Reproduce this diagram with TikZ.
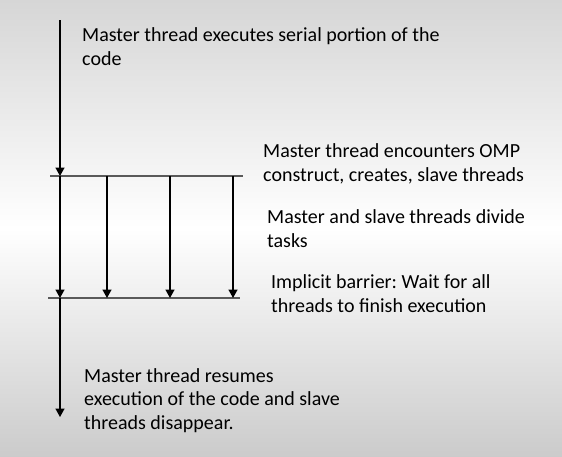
\documentclass[tikz,border=0pt]{standalone}
\usepackage{fontspec}
\setmainfont{Carlito}
\usetikzlibrary{arrows.meta}
\definecolor{bgedge}{HTML}{D6D6D6}
\definecolor{barcol}{HTML}{5A5A5A}
\frenchspacing
\begin{document}
\begin{tikzpicture}[x=1pt,y=-1pt,
  thr/.style={line width=1.4pt,black,-{Triangle[width=9pt,length=8.5pt]}},
  bar/.style={line width=1.2pt,barcol},
  lbl/.style={anchor=base west,inner sep=0pt,align=left,text=black,
    font=\fontsize{20}{23.5}\selectfont}]
\useasboundingbox (0,0) rectangle (562,456);
\shade[top color=bgedge,bottom color=bgedge!95!black,middle color=white] (0,0) rectangle (562,456);
% junction coordinates
\coordinate (m0) at (60,20);
\coordinate (t0) at (60,176);
\coordinate (b0) at (60,298);
\coordinate (mend) at (60,417);
\coordinate (t1) at (107,176);
\coordinate (t2) at (170,176);
\coordinate (t3) at (233,176);
\coordinate (b1) at (107,298);
\coordinate (b2) at (170,298);
\coordinate (b3) at (233,298);
\coordinate (tl) at (50,176);
\coordinate (tr) at (243,176);
\coordinate (bl) at (48,298);
\coordinate (br) at (240,298);
% barriers
\draw[bar] (tl) -- (tr);
\draw[bar] (bl) -- (br);
% threads
\draw[thr] (m0) -- (t0);
\draw[thr] (t0) -- (b0);
\draw[thr] (t1) -- (b1);
\draw[thr] (t2) -- (b2);
\draw[thr] (t3) -- (b3);
\draw[thr] (b0) -- (mend);
% labels (anchored at the baseline of the last line)
\node[lbl] (l1) at (82,65) {Master thread executes serial portion of the\\code};
\node[lbl] (l2) at (263,181) {Master thread encounters OMP\\construct, creates, slave threads};
\node[lbl] (l3) at (267,247) {Master and slave threads divide\\tasks};
\node[lbl] (l4) at (271,312) {Implicit barrier: Wait for all\\threads to finish execution};
\node[lbl] (l5) at (84,429) {Master thread resumes\\execution of the code and slave\\threads disappear.};
\end{tikzpicture}
\end{document}
